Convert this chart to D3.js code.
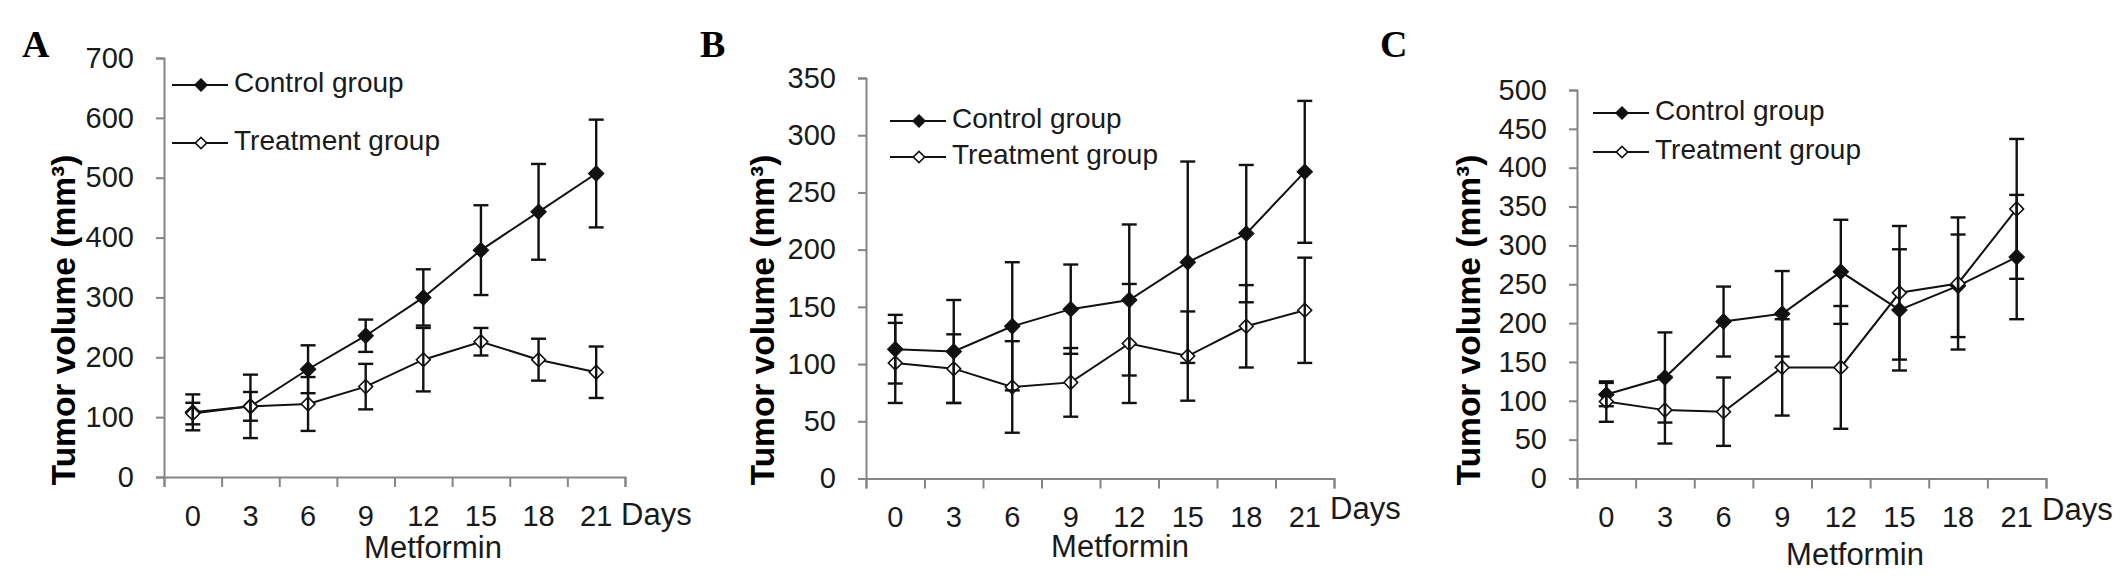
<!DOCTYPE html>
<html>
<head>
<meta charset="utf-8">
<script src="https://cdn.jsdelivr.net/npm/d3@7"></script>
<style>
  body { margin: 0; background: #fff; }
  text { font-family: "Liberation Sans", Arial, sans-serif; fill: #1a1a1a; }
</style>
</head>
<body>
<div id="chart"></div>
<script>
const DAYS = [0, 3, 6, 9, 12, 15, 18, 21];
const SERIES_NAMES = ['Control group', 'Treatment group'];

// panel A
const controlA = [108, 118, 180, 236, 300, 379, 443, 507];
const controlErrA = [30, 53, 40, 27, 47, 75, 80, 90];
const treatA = [106, 118, 122, 151, 196, 226, 196, 175];
const treatErrA = [18, 24, 45, 38, 53, 23, 35, 43];
const yTicksA = [0, 100, 200, 300, 400, 500, 600, 700];

// panel B
const controlB = [113, 111, 133, 148, 156, 189, 214, 268];
const controlErrB = [30, 45, 56, 39, 66, 88, 60, 62];
const treatB = [101, 96, 80, 84, 118, 107, 133, 147];
const treatErrB = [35, 30, 40, 30, 52, 39, 36, 46];
const yTicksB = [0, 50, 100, 150, 200, 250, 300, 350];

// panel C
const controlC = [108, 130, 202, 212, 266, 217, 248, 285];
const controlErrC = [15, 58, 45, 55, 67, 78, 66, 80];
const treatC = [99, 88, 86, 143, 143, 239, 251, 347];
const treatErrC = [26, 43, 44, 62, 79, 86, 85, 90];
const yTicksC = [0, 50, 100, 150, 200, 250, 300, 350, 400, 450, 500];

const panels = [
  { letter: 'A', lx: 22, left: 164, right: 625, top: 58, bottom: 477, ticks: yTicksA,
    control: controlA, controlErr: controlErrA, treat: treatA, treatErr: treatErrA,
    titleX: 75, legX: 172, legY: [85, 143], daysY: 525, metX: 433, metY: 558 },
  { letter: 'B', lx: 700, left: 866, right: 1334, top: 78, bottom: 478.5, ticks: yTicksB,
    control: controlB, controlErr: controlErrB, treat: treatB, treatErr: treatErrB,
    titleX: 774, legX: 890, legY: [121, 157], daysY: 519, metX: 1120, metY: 557 },
  { letter: 'C', lx: 1380, left: 1577, right: 2046, top: 90, bottom: 478.5, ticks: yTicksC,
    control: controlC, controlErr: controlErrC, treat: treatC, treatErr: treatErrC,
    titleX: 1480, legX: 1593, legY: [113, 152], daysY: 520, metX: 1855, metY: 565 }
];

const AXIS = '#858585';
const INK = '#111';

const svg = d3.select('#chart').append('svg')
  .attr('width', 2126).attr('height', 580);

const diamond = d3.symbol().type(d3.symbolSquare);

function drawMarker(g, x, y, filled, size) {
  g.append('path')
    .attr('d', diamond.size(size)())
    .attr('transform', `translate(${x},${y}) rotate(45)`)
    .attr('fill', filled ? INK : '#fff')
    .attr('stroke', INK).attr('stroke-width', filled ? 1 : 1.6);
}

panels.forEach(p => {
  const g = svg.append('g');

  const x = d3.scaleBand().domain(DAYS).range([p.left, p.right]).padding(0);
  const edge = d3.scaleLinear().domain([0, DAYS.length]).range([p.left, p.right]);
  const y = d3.scaleLinear().domain([0, d3.max(p.ticks)]).range([p.bottom, p.top]);
  const cx = d => x(d) + x.bandwidth() / 2;

  // panel letter
  g.append('text').attr('x', p.lx).attr('y', 57)
    .style('font-family', '"Liberation Serif", "Times New Roman", serif')
    .style('font-weight', 'bold').style('font-size', '38px').style('fill', '#000')
    .text(p.letter);

  // y axis
  const ya = g.append('g').attr('transform', `translate(${p.left},0)`)
    .call(d3.axisLeft(y).tickValues(p.ticks).tickSize(8).tickPadding(22).tickFormat(d3.format('d')));
  ya.selectAll('line,path').attr('stroke', AXIS).attr('stroke-width', 2);
  ya.selectAll('text').style('font-size', '29px').attr('fill', '#1a1a1a')
    .style('font-family', '"Liberation Sans", Arial, sans-serif');

  // x axis: tick marks at category boundaries
  const xe = g.append('g').attr('transform', `translate(0,${p.bottom})`)
    .call(d3.axisBottom(edge).tickValues(d3.range(0, DAYS.length + 1)).tickSize(10).tickFormat(''));
  xe.selectAll('line,path').attr('stroke', AXIS).attr('stroke-width', 2);

  const xl = g.append('g').attr('transform', `translate(0,${p.bottom})`)
    .call(d3.axisBottom(x).tickSize(0).tickPadding(28));
  xl.select('path').remove();
  xl.selectAll('text').style('font-size', '29px').attr('fill', '#1a1a1a')
    .style('font-family', '"Liberation Sans", Arial, sans-serif');

  g.append('text').attr('x', p.right - 4).attr('y', p.daysY)
    .style('font-size', '31px').text('Days');
  g.append('text').attr('x', p.metX).attr('y', p.metY)
    .attr('text-anchor', 'middle').style('font-size', '31px').text('Metformin');

  // y title
  g.append('text')
    .attr('transform', `translate(${p.titleX},320) rotate(-90)`)
    .attr('text-anchor', 'middle')
    .style('font-size', '33.5px').style('font-weight', 'bold').style('fill', '#000')
    .text('Tumor volume (mm³)');

  const series = [
    { vals: p.control, errs: p.controlErr, filled: true },
    { vals: p.treat, errs: p.treatErr, filled: false }
  ];

  const line = d3.line().x((d, i) => cx(DAYS[i])).y(d => y(d));

  series.forEach(s => {
    g.append('path').datum(s.vals).attr('d', line)
      .attr('fill', 'none').attr('stroke', INK).attr('stroke-width', 2);
  });
  series.forEach(s => {
    s.vals.forEach((v, i) => drawMarker(g, cx(DAYS[i]), y(v), s.filled, s.filled ? 120 : 95));
  });
  series.forEach(s => {
    s.vals.forEach((v, i) => {
      const xx = cx(DAYS[i]);
      const hi = y(v + s.errs[i]), lo = y(v - s.errs[i]);
      g.append('line').attr('x1', xx).attr('x2', xx).attr('y1', hi).attr('y2', lo)
        .attr('stroke', INK).attr('stroke-width', 2.4);
      [hi, lo].forEach(yy => g.append('line')
        .attr('x1', xx - 7.5).attr('x2', xx + 7.5).attr('y1', yy).attr('y2', yy)
        .attr('stroke', INK).attr('stroke-width', 2.4));
    });
  });

  // legend
  series.forEach((s, i) => {
    const ly = p.legY[i];
    g.append('line').attr('x1', p.legX).attr('x2', p.legX + 56).attr('y1', ly).attr('y2', ly)
      .attr('stroke', INK).attr('stroke-width', 2);
    drawMarker(g, p.legX + 29, ly, s.filled, s.filled ? 80 : 65);
    g.append('text').attr('x', p.legX + 62).attr('y', ly)
      .attr('dominant-baseline', 'middle').style('font-size', '28px')
      .text(SERIES_NAMES[i]);
  });
});
</script>
</body>
</html>
